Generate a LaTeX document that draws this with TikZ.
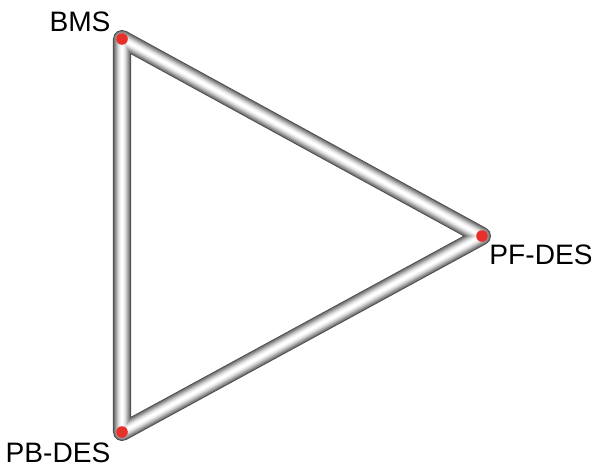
\documentclass[tikz,border=0pt]{standalone}
\usepackage{fontspec}
\setmainfont{Liberation Sans}
\usepackage{xcolor}
\usetikzlibrary{positioning}
\definecolor{dotred}{HTML}{E8302A}
\tikzset{
  dot/.style={circle, fill=dotred, inner sep=0pt, minimum size=0.29cm},
  vlabel/.style={inner sep=0pt}
}
\begin{document}
\begin{tikzpicture}[x=0.025cm, y=-0.025cm, font=\fontsize{20}{24}\selectfont]
  \useasboundingbox (0,0) rectangle (591,467);
  \coordinate (bms) at (122,39);
  \coordinate (pf) at (482,236);
  \coordinate (pb) at (122,432);
  % shaded tube, outside in
  \foreach \w/\c in {18/black!72, 16.5/black!58, 15/black!48, 13/black!38, 11/black!28, 9/black!19, 7/black!11, 5/black!5, 2.5/white} {
    \draw[line width=\w*0.25mm, \c, line join=round] (bms) -- (pf) -- (pb) -- cycle;
  }
  \node[dot] (bmsdot) at (bms) {};
  \node[dot] (pfdot) at (pf) {};
  \node[dot] (pbdot) at (pb) {};
  \node[vlabel] (bmslbl) at (80,21.5) {BMS};
  \node[vlabel] (pflbl) at (541,255) {PF-DES};
  \node[vlabel] (pblbl) at (58,453) {PB-DES};
\end{tikzpicture}
\end{document}
